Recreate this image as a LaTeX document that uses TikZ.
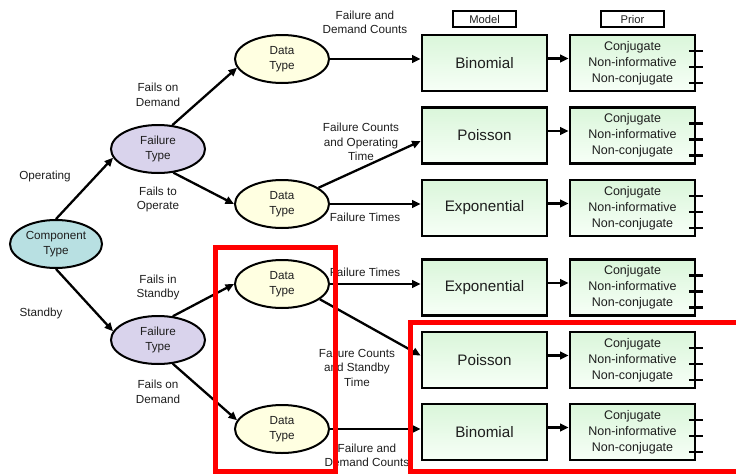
\documentclass[tikz,border=0pt]{standalone}
\usepackage{fontspec}
\setmainfont{Liberation Sans}
\usetikzlibrary{shapes.geometric,arrows.meta}
\definecolor{compfill}{HTML}{B8E0E2}
\definecolor{failfill}{HTML}{D9D3EC}
\definecolor{datafill}{HTML}{FFFFE1}
\definecolor{boxtop}{HTML}{DAF6DA}
\definecolor{boxbot}{HTML}{F7FFF7}
\definecolor{txt}{HTML}{1E1E1E}

\tikzset{
  oval/.style={ellipse, draw=black, line width=2pt, minimum width=94pt,
    minimum height=48pt, inner sep=0pt, align=center,
    font=\fontsize{11.7}{14.5}\selectfont, text=txt},
  compnode/.style={oval, fill=compfill, minimum width=92pt},
  failnode/.style={oval, fill=failfill},
  datanode/.style={oval, fill=datafill},
  modelbox/.style={rectangle, draw=black, line width=2.8pt, minimum width=125pt,
    minimum height=56pt, top color=boxtop, bottom color=boxbot,
    font=\fontsize{15.2}{18}\selectfont, text=txt},
  priorbox/.style={modelbox, align=center, font=\fontsize{12.5}{16}\selectfont},
  header/.style={rectangle, draw=black, line width=1.9pt, minimum width=63pt,
    minimum height=16pt, inner sep=0pt, font=\fontsize{11.2}{13}\selectfont, text=txt},
  lbl/.style={align=center, font=\fontsize{11.7}{14.5}\selectfont, text=txt, inner sep=0pt},
  arr/.style={line width=2.3pt, -{Triangle[length=8.5pt,width=7.5pt]}},
  tickline/.style={line width=2.2pt},
  hilite/.style={draw=red, line width=5pt},
}

\begin{document}
\begin{tikzpicture}[x=1pt,y=-1pt]
\useasboundingbox (0,0) rectangle (736,474);

% tree of ellipses
\node[compnode] (comp) at (56,244) {Component\\Type};
\node[failnode] (ftU) at (158,149) {Failure\\Type};
\node[failnode] (ftL) at (158,340) {Failure\\Type};
\node[datanode] (dt1) at (282,59) {Data\\Type};
\node[datanode] (dt2) at (282,204) {Data\\Type};
\node[datanode] (dt3) at (282,284) {Data\\Type};
\node[datanode] (dt4) at (282,429) {Data\\Type};

% column headers
\node[header] (hmodel) at (484.5,19) {Model};
\node[header] (hprior) at (632.5,19) {Prior};

% model and prior boxes
\foreach \i/\y/\m in {1/63/Binomial, 2/135.5/Poisson, 3/208/Exponential,
                      4/287.5/Exponential, 5/360/Poisson, 6/432/Binomial} {
  \node[modelbox] (m\i) at (484.5,\y) {\m};
  \node[priorbox] (p\i) at (632.5,\y) {Conjugate\\Non-informative\\Non-conjugate};
  \draw[arr] ([yshift=4.5pt]m\i.east) -- ([yshift=4.5pt]p\i.west);
  \foreach \d in {12,-4,-20} {
    \draw[tickline] ([xshift=-7.5pt,yshift=\d pt]p\i.east) -- ++(14,0);
  }
}

% branch labels
\node[lbl] (lop) at (45,176) {Operating};
\node[lbl] (lsb) at (41,313) {Standby};
\node[lbl] (lfod1) at (158,95) {Fails on\\Demand};
\node[lbl] (lfto) at (158,199.5) {Fails to\\Operate};
\node[lbl] (lfis) at (158,287.5) {Fails in\\Standby};
\node[lbl] (lfod2) at (158,392) {Fails on\\Demand};
\node[lbl] (ldc1) at (365,22.5) {Failure and\\Demand Counts};
\node[lbl] (lcot) at (361,142) {Failure Counts\\and Operating\\Time};
\node[lbl] (lft1) at (365,217) {Failure Times};
\node[lbl] (lft2) at (365,272) {Failure Times};
\node[lbl] (lcst) at (357,367.5) {Failure Counts\\and Standby\\Time};
\node[lbl] (ldc2) at (367,455.5) {Failure and\\Demand Counts};

% connectors
\draw[arr] (comp.north) -- (ftU.191);
\draw[arr] (comp.south) -- (ftL.169);
\draw[arr] (ftU.59) -- (dt1.191);
\draw[arr] (ftU.303) -- (dt2.west);
\draw[arr] (ftL.58) -- (dt3.west);
\draw[arr] (ftL.302) -- (dt4.169);
\draw[arr] (dt1.east) -- (dt1.east -| m1.west);
\draw[arr] (dt2.24) -- (m2.185);
\draw[arr] (dt2.east) -- (dt2.east -| m3.west);
\draw[arr] (dt3.east) -- (dt3.east -| m4.west);
\draw[arr] (dt3.338) -- (m5.176);
\draw[arr] (dt4.east) -- (dt4.east -| m6.west);

% highlight frames
\draw[hilite] (215.5,247.5) rectangle (335.5,471.5);
\draw[hilite] (410.5,322.5) rectangle (750,471.5);
\end{tikzpicture}
\end{document}
